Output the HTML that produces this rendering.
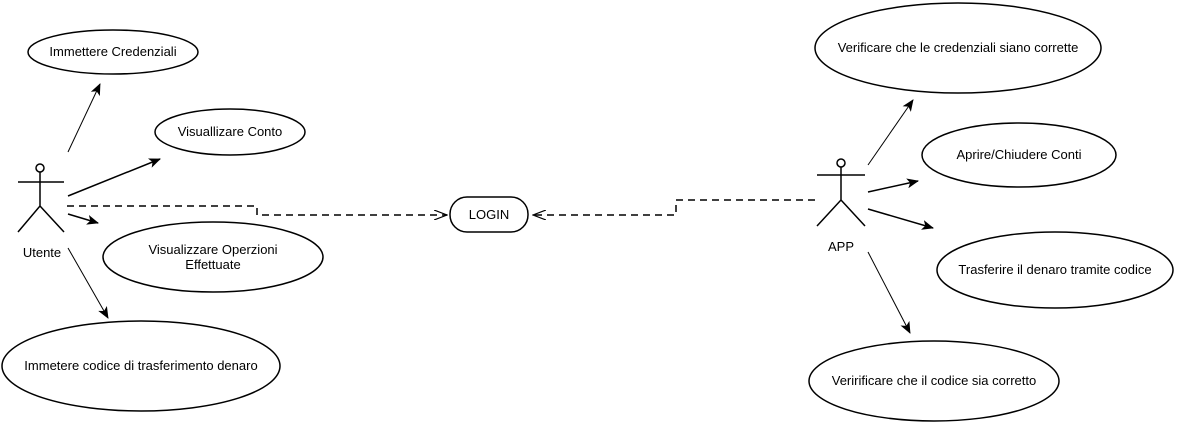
<!DOCTYPE html>
<html><head><meta charset="utf-8"><style>body{margin:0;background:#fff}svg{display:block}text{font-family:"Liberation Sans",sans-serif;font-size:13px;fill:#000}</style></head><body>
<svg width="1177" height="424" viewBox="0 0 1177 424" xmlns="http://www.w3.org/2000/svg">
<defs>
<marker id="f" markerWidth="12" markerHeight="10" refX="11" refY="5" orient="auto" markerUnits="userSpaceOnUse"><path d="M0,0 L12,5 L0,10 L3,5 Z" fill="#000"/></marker>
<marker id="o" markerWidth="14" markerHeight="10" refX="13" refY="5" orient="auto" markerUnits="userSpaceOnUse"><path d="M0,0 L13,5 L0,10" fill="none" stroke="#000" stroke-width="1.2"/></marker>
</defs>
<g fill="none" stroke="#000" stroke-width="1.5">
<ellipse cx="113" cy="52" rx="85" ry="22"/>
<ellipse cx="230" cy="132" rx="75" ry="23"/>
<ellipse cx="213" cy="257" rx="110" ry="35"/>
<ellipse cx="141" cy="366" rx="139" ry="45"/>
<rect x="450" y="197" width="78" height="35" rx="17"/>
<ellipse cx="958" cy="48" rx="143" ry="45"/>
<ellipse cx="1019" cy="155" rx="97" ry="32"/>
<ellipse cx="1055" cy="270" rx="118" ry="38"/>
<ellipse cx="934" cy="381" rx="125" ry="40"/>
<circle cx="40" cy="168" r="4"/>
<path d="M18 182H64M40 172V206L18 232M40 206L64 232"/>
<circle cx="841" cy="163" r="4"/>
<path d="M817 175H865M841 167V200L817 226M841 200L865 226"/>
</g>
<g stroke="#000" stroke-width="1" fill="none">
<line x1="68" y1="152" x2="100" y2="84" marker-end="url(#f)"/>
<line x1="68" y1="196" x2="160" y2="159" marker-end="url(#f)" stroke-width="1.5"/>
<line x1="68" y1="214" x2="98" y2="223" marker-end="url(#f)" stroke-width="1.5"/>
<line x1="68" y1="248" x2="108" y2="318" marker-end="url(#f)"/>
<line x1="868" y1="165" x2="913" y2="100" marker-end="url(#f)"/>
<line x1="868" y1="192" x2="918" y2="181" marker-end="url(#f)" stroke-width="1.5"/>
<line x1="868" y1="209" x2="933" y2="228" marker-end="url(#f)" stroke-width="1.5"/>
<line x1="868" y1="252" x2="910" y2="333" marker-end="url(#f)"/>
<polyline points="67,206 257,206 257,215 447,215" stroke-width="1.5" stroke-dasharray="7,5" marker-end="url(#o)"/>
<polyline points="815,200 676,200 676,215 533,215" stroke-width="1.5" stroke-dasharray="7,5" marker-end="url(#o)"/>
</g>
<g text-anchor="middle">
<text x="113" y="56">Immettere Credenziali</text>
<text x="230" y="136">Visuallizare Conto</text>
<text x="213" y="254">Visualizzare Operzioni</text>
<text x="213" y="269">Effettuate</text>
<text x="141" y="370">Immetere codice di trasferimento denaro</text>
<text x="489" y="219">LOGIN</text>
<text x="42" y="257">Utente</text>
<text x="841" y="251">APP</text>
<text x="958" y="52">Verificare che le credenziali siano corrette</text>
<text x="1019" y="159">Aprire/Chiudere Conti</text>
<text x="1055" y="274">Trasferire il denaro tramite codice</text>
<text x="934" y="385">Veririficare che il codice sia corretto</text>
</g>
</svg>
</body></html>
